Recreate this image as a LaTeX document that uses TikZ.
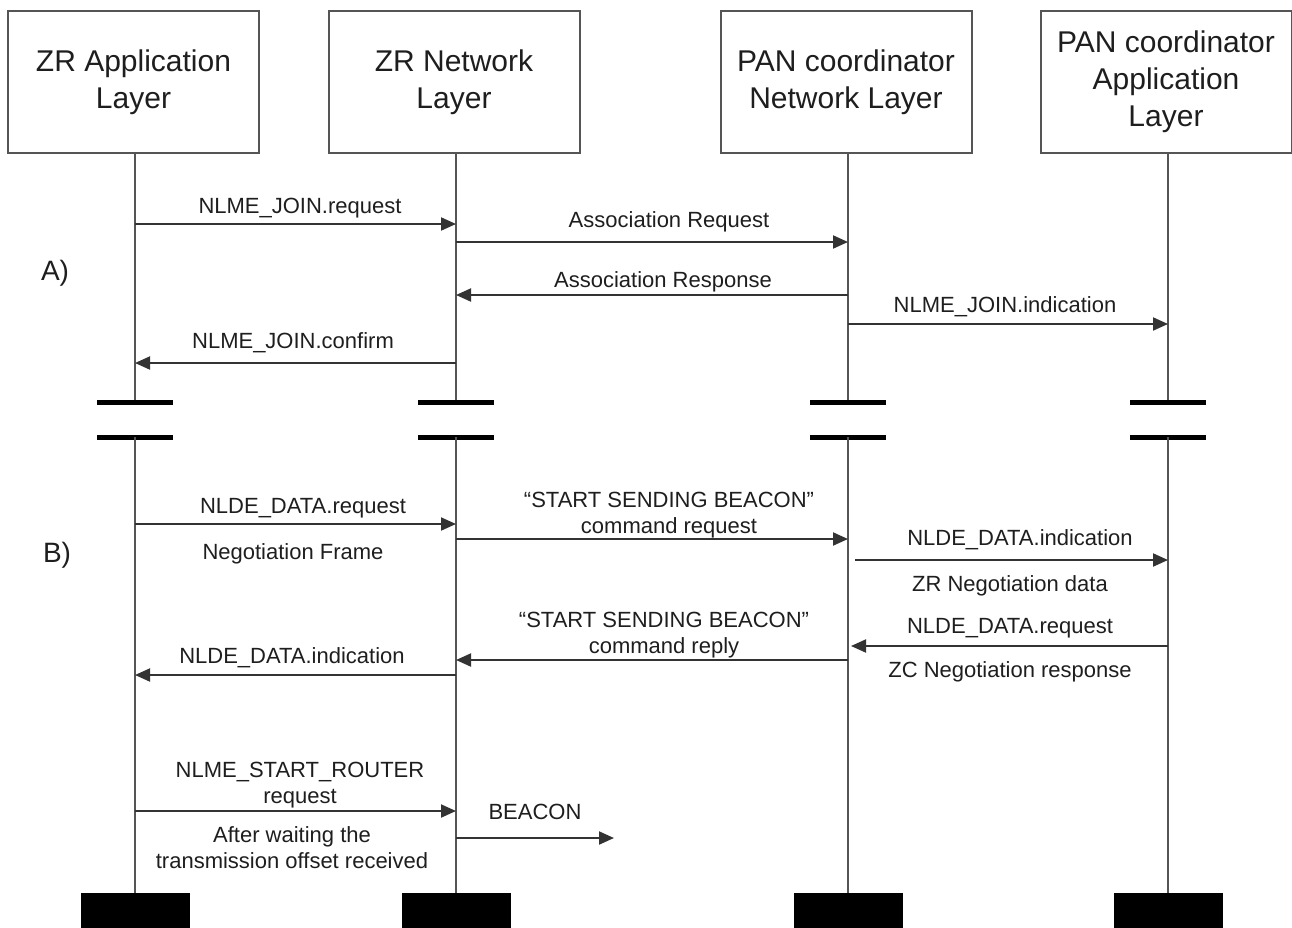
\documentclass[tikz,border=0pt]{standalone}
\usepackage{fontspec}
\setmainfont{Liberation Sans}
\usetikzlibrary{arrows.meta}
\definecolor{ln}{HTML}{555555}
\definecolor{ar}{HTML}{333333}
\definecolor{tx}{HTML}{1E1E1E}
\begin{document}
\begin{tikzpicture}[x=1pt,y=-1pt,
  layerbox/.style={draw=ln, line width=2pt, fill=white, minimum width=251pt, minimum height=142pt, align=center, text=tx, font=\fontsize{30}{37}\selectfont, inner sep=0pt},
  life/.style={ln, line width=2pt},
  brk/.style={black, line width=5pt},
  msg/.style={ar, line width=2pt, -{Triangle[length=15pt,width=13pt]}},
  lbl/.style={text=tx, font=\fontsize{22}{26}\selectfont, align=center, anchor=base, inner sep=0pt},
  sec/.style={text=tx, font=\fontsize{28}{30}\selectfont, anchor=base, inner sep=0pt},
  stopblk/.style={fill=black, minimum width=109pt, minimum height=36pt, inner sep=0pt, anchor=north}
]
\useasboundingbox (0,0) rectangle (1292,927);
% layer boxes
\node[layerbox] (zra) at (133.5,82) {ZR Application\\Layer};
\node[layerbox] (zrn) at (454,82) {ZR Network\\Layer};
\node[layerbox] (pcn) at (846,82) {PAN coordinator\\Network Layer};
\node[layerbox] (pca) at (1166,82) {PAN coordinator\\Application\\Layer};
% lifeline anchors
\coordinate (l1) at (135,153);
\coordinate (l2) at (456,153);
\coordinate (l3) at (848,153);
\coordinate (l4) at (1168,153);
% lifelines, breaks and end blocks
\foreach \l/\b in {l1/e1,l2/e2,l3/e3,l4/e4}{
  \draw[life] (\l) -- (\l |- 0,402);
  \draw[brk] ([xshift=-38pt]\l |- 0,402) -- ([xshift=38pt]\l |- 0,402);
  \draw[brk] ([xshift=-38pt]\l |- 0,437) -- ([xshift=38pt]\l |- 0,437);
  \node[stopblk] (\b) at (\l |- 0,893) {};
  \draw[life] (\l |- 0,437) -- (\b.north);
}
% section labels
\node[sec] (secA) at (55,280) {A)};
\node[sec] (secB) at (57,562) {B)};
% ---- A) ----
\draw[msg] (l1 |- 0,224) -- (l2 |- 0,224);
\node[lbl] (m1) at (300,213) {NLME\_JOIN.request};
\draw[msg] (l2 |- 0,242) -- (l3 |- 0,242);
\node[lbl] (m2) at (669,227) {Association Request};
\draw[msg] (l3 |- 0,295) -- (l2 |- 0,295);
\node[lbl] (m3) at (663,287) {Association Response};
\draw[msg] (l3 |- 0,324) -- (l4 |- 0,324);
\node[lbl] (m4) at (1005,312) {NLME\_JOIN.indication};
\draw[msg] (l2 |- 0,363) -- (l1 |- 0,363);
\node[lbl] (m5) at (293,348) {NLME\_JOIN.confirm};
% ---- B) ----
\draw[msg] (l1 |- 0,524) -- (l2 |- 0,524);
\node[lbl] (m6) at (303,513) {NLDE\_DATA.request};
\node[lbl] (m6b) at (293,559) {Negotiation Frame};
\draw[msg] (l2 |- 0,539) -- (l3 |- 0,539);
\node[lbl] (m7) at (669,533) {“START SENDING BEACON"\\command request};
\coordinate (s8) at (855,560);
\draw[msg] (s8) -- (l4 |- s8);
\node[lbl] (m8) at (1020,545) {NLDE\_DATA.indication};
\node[lbl] (m8b) at (1010,591) {ZR Negotiation data};
\coordinate (t9) at (851,646);
\draw[msg] (l4 |- t9) -- (t9);
\node[lbl] (m9) at (1010,633) {NLDE\_DATA.request};
\node[lbl] (m9b) at (1010,677) {ZC Negotiation response};
\draw[msg] (l3 |- 0,660) -- (l2 |- 0,660);
\node[lbl] (m10) at (664,653) {“START SENDING BEACON"\\command reply};
\draw[msg] (l2 |- 0,675) -- (l1 |- 0,675);
\node[lbl] (m11) at (292,663) {NLDE\_DATA.indication};
\draw[msg] (l1 |- 0,811) -- (l2 |- 0,811);
\node[lbl] (m12) at (300,803) {NLME\_START\_ROUTER\\request};
\node[lbl] (m12b) at (292,868) {After waiting the\\transmission offset received};
\coordinate (t13) at (614,838);
\draw[msg] (l2 |- t13) -- (t13);
\node[lbl] (m13) at (535,819) {BEACON};
\end{tikzpicture}
\end{document}
